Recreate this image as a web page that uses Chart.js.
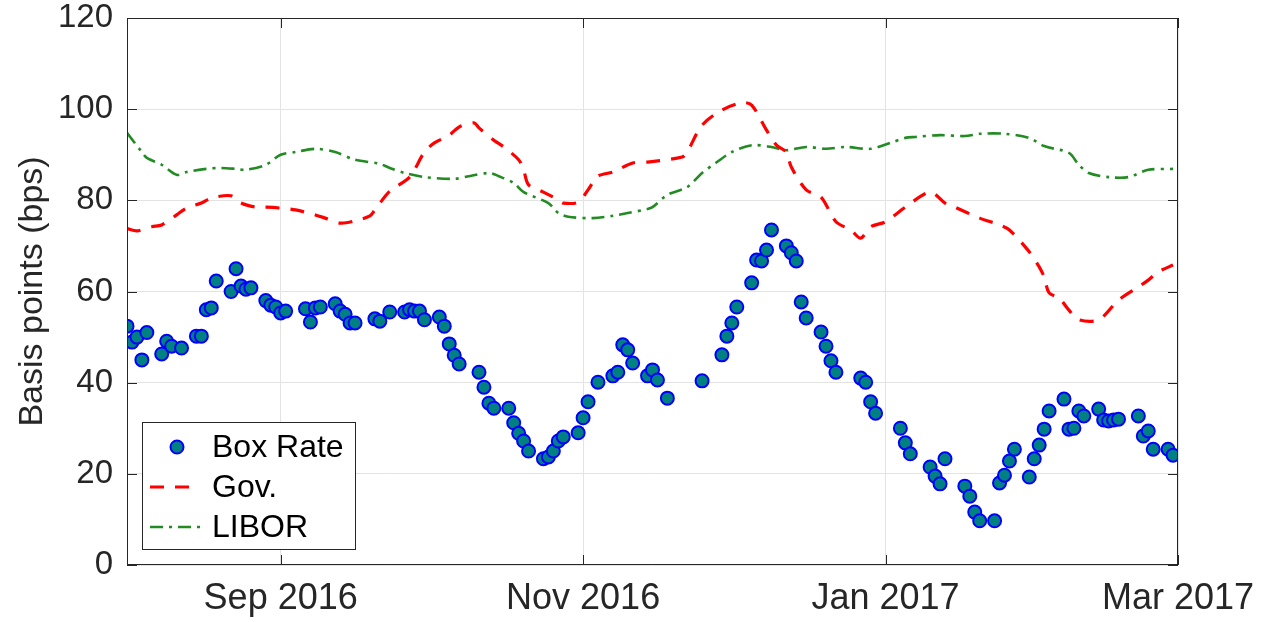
<!DOCTYPE html>
<html>
<head>
<meta charset="utf-8">
<script src="https://cdn.jsdelivr.net/npm/chart.js@4.4.0/dist/chart.umd.min.js"></script>
<style>
  html, body { margin: 0; padding: 0; background: #fff; }
  #wrap { width: 1267px; height: 622px; }
</style>
</head>
<body>
<div id="wrap"><canvas id="chart" width="1267" height="622"></canvas></div>
<script>
/* x values are days counted from 1 Aug 2016 */
const boxDays = [0,1,2,3,4,7,8,9,11,14,15,16,17,18,21,22,23,24,25,28,29,30,31,32,36,37,38,39,42,43,44,45,46,50,51,53,56,57,58,59,60,63,64,65,66,67,71,72,73,74,77,78,79,80,81,84,85,86,87,88,91,92,93,95,98,99,100,101,102,105,106,107,109,116,120,121,122,123,126,127,128,129,130,133,134,135,136,137,140,141,142,143,148,149,150,151,156,157,158,162,163,164,165,169,170,171,172,175,176,177,178,179,182,183,184,185,186,189,190,191,192,193,196,197,198,199,200,204,205,206,207,210,211];
const boxRate = [52.4,48.9,50,45,51,46.3,49.1,48,47.6,50.2,50.2,56,56.4,62.3,60,65,61.2,60.5,60.8,58,57,56.6,55.3,55.7,56.2,53.3,56.4,56.6,57.3,55.7,55,53.1,53.1,54,53.5,55.5,55.5,56,55.7,55.7,53.8,54.4,52.4,48.5,46,44.1,42.3,39,35.5,34.4,34.4,31.2,28.9,27.2,25,23.3,23.7,25,27.2,28.1,29,32.3,35.8,40.1,41.5,42.3,48.3,47.2,44.3,41.5,42.8,40.6,36.6,40.4,46.1,50.2,53.1,56.6,61.9,66.9,66.7,69.1,73.5,70,68.5,66.7,57.7,54.2,51.1,48,44.8,42.3,41,40.1,35.8,33.3,30,26.8,24.4,21.5,19.5,17.8,23.3,17.3,15.1,11.6,9.7,9.7,18,19.7,22.8,25.4,19.3,23.3,26.3,29.8,33.8,36.4,29.8,30,33.8,32.7,34.2,31.8,31.6,31.8,32,32.7,28.3,29.4,25.4,25.4,24.1];

const govDays = [0,2,5,7,10,12,15,17,21,23,26,28,31,34,38,40,43,46,49,50,53,57,60,62,65,67,70,71,74,76,79,80,81,84,87,88,91,93,95,98,102,105,112,113,116,120,124,126,129,131,133,134,137,140,143,146,148,150,153,157,162,165,167,172,176,178,182,184,185,186,188,190,192,196,200,204,206,208,211];
const govRate = [73.8,73.3,74.2,74.6,76.8,78.3,79.4,80.5,81,79.4,78.5,78.5,78.3,77.9,76.8,76.1,75,75.5,76.6,77.9,82,85.1,90.6,92.6,94.3,96.1,97,95.9,93.2,91.7,88.9,86.7,83.4,81.8,80.1,79.4,79.6,82.3,85.3,86.2,88.2,88.4,89.5,90.6,96.5,99.8,101.4,100.9,95.4,92.1,90.6,87.3,82.3,80.7,75.3,73.5,71.7,74.2,75.3,78.5,81.8,79.4,78.5,76.1,74.6,73.5,68.7,65.4,63.2,59.7,58.6,55.9,53.8,53.8,58.1,61,62.5,64.3,65.8];

const liborDays = [0,3,4,7,10,12,16,19,22,24,28,31,34,38,42,46,51,53,56,60,66,69,73,75,78,80,85,87,89,94,98,101,105,106,109,113,116,119,122,126,130,133,137,141,145,150,154,157,159,164,169,172,177,182,185,190,192,194,198,202,206,211];
const liborRate = [94.8,90.6,89.3,87.8,85.6,86.2,86.9,87.1,86.9,86.7,87.8,90,90.6,91.3,90.6,88.9,88,87.1,86,85.1,84.7,85.3,86,85.3,83.8,81.8,79.4,77.2,76.4,76.1,76.6,77.2,78.1,78.5,81.2,82.9,86,88.4,90.6,92.1,91.7,91,91.7,91.3,91.7,91.3,92.6,93.7,93.9,94.3,94.1,94.6,94.6,93.7,91.9,90.4,87.8,86,85.1,85.1,86.7,86.9];

const xTickDays = [31, 92, 153, 212];
const xTickLabels = ['Sep 2016', 'Nov 2016', 'Jan 2017', 'Mar 2017'];

const seriesNames = ['Box Rate', 'Gov.', 'LIBOR'];

const FONT = '"Liberation Sans", Arial, Helvetica, sans-serif';
const INK = '#262626';

const toXY = (xs, ys) => xs.map((x, i) => ({ x, y: ys[i] }));

// MATLAB-style box: frame on four sides with inward ticks
const axesBox = {
  id: 'axesBox',
  afterDatasetsDraw(chart) {
    const { ctx, chartArea: a, scales } = chart;
    ctx.save();
    ctx.strokeStyle = INK;
    ctx.lineWidth = 1;
    ctx.strokeRect(a.left + 0.5, a.top + 0.5, a.right - a.left - 1, a.bottom - a.top - 1);
    const len = 10;
    ctx.beginPath();
    scales.y.ticks.forEach(t => {
      const y = Math.round(scales.y.getPixelForValue(t.value)) + 0.5;
      ctx.moveTo(a.left, y); ctx.lineTo(a.left + len, y);
      ctx.moveTo(a.right, y); ctx.lineTo(a.right - len, y);
    });
    scales.x.ticks.forEach(t => {
      const x = Math.round(scales.x.getPixelForValue(t.value)) + 0.5;
      ctx.moveTo(x, a.bottom); ctx.lineTo(x, a.bottom - len);
      ctx.moveTo(x, a.top); ctx.lineTo(x, a.top + len);
    });
    ctx.stroke();
    ctx.restore();
  }
};

// legend box in the lower left corner of the axes
const boxLegend = {
  id: 'boxLegend',
  afterDraw(chart) {
    const { ctx } = chart;
    const ds = chart.data.datasets;
    const L = 142, T = 422, W = 213, H = 127;
    ctx.save();
    ctx.fillStyle = '#fff';
    ctx.fillRect(L, T, W, H);
    ctx.strokeStyle = INK;
    ctx.lineWidth = 1;
    ctx.strokeRect(L + 0.5, T + 0.5, W, H);
    const rows = [447, 487, 527];
    const lineEnd = [0, 194, 203];
    ds.forEach((d, i) => {
      const y = rows[i];
      if (i === 0) {
        ctx.beginPath();
        ctx.arc(177, y, d.pointRadius, 0, Math.PI * 2);
        ctx.fillStyle = d.pointBackgroundColor;
        ctx.fill();
        ctx.lineWidth = d.pointBorderWidth;
        ctx.strokeStyle = d.pointBorderColor;
        ctx.stroke();
      } else {
        ctx.beginPath();
        ctx.setLineDash(d.borderDash);
        ctx.lineWidth = d.borderWidth;
        ctx.strokeStyle = d.borderColor;
        ctx.moveTo(150, y); ctx.lineTo(lineEnd[i], y);
        ctx.stroke();
        ctx.setLineDash([]);
      }
      ctx.fillStyle = '#000';
      ctx.font = '32px ' + FONT;
      ctx.textBaseline = 'middle';
      ctx.fillText(d.label, 212, y + 1);
    });
    ctx.restore();
  }
};

new Chart(document.getElementById('chart'), {
  type: 'scatter',
  data: {
    datasets: [
      {
        label: seriesNames[0],
        data: toXY(boxDays, boxRate),
        showLine: false,
        pointRadius: 6.5,
        pointBackgroundColor: '#008080',
        pointBorderColor: '#0000ff',
        pointBorderWidth: 2,
        order: 0,
      },
      {
        label: seriesNames[1],
        data: toXY(govDays, govRate),
        showLine: true,
        borderColor: '#ff0000',
        borderWidth: 3.2,
        borderDash: [14, 11],
        pointRadius: 0,
        tension: 0.3,
        order: 1,
      },
      {
        label: seriesNames[2],
        data: toXY(liborDays, liborRate),
        showLine: true,
        borderColor: '#228b22',
        borderWidth: 2.6,
        borderDash: [13, 6, 3, 6],
        pointRadius: 0,
        tension: 0.3,
        order: 2,
      },
    ],
  },
  options: {
    responsive: false,
    animation: false,
    events: [],
    layout: { padding: { left: 0, top: 18, right: 89, bottom: 0 } },
    plugins: { legend: { display: false }, tooltip: { enabled: false } },
    scales: {
      x: {
        type: 'linear',
        min: 0,
        max: 212,
        afterBuildTicks: s => { s.ticks = xTickDays.map(v => ({ value: v })); },
        afterFit: s => { s.height = 57; s.paddingLeft = 0; s.paddingRight = 0; },
        ticks: {
          autoSkip: false,
          maxRotation: 0,
          padding: 12,
          color: INK,
          font: { family: FONT, size: 36 },
          callback: v => xTickLabels[xTickDays.indexOf(v)] ?? '',
        },
        grid: { color: '#e3e3e3', lineWidth: 1, drawTicks: false },
        border: { display: false },
      },
      y: {
        min: 0,
        max: 120,
        afterFit: s => { s.width = 127; s.paddingTop = 0; s.paddingBottom = 0; },
        ticks: {
          stepSize: 20,
          padding: 14,
          color: INK,
          font: { family: FONT, size: 33, lineHeight: 1 },
        },
        grid: { color: '#e3e3e3', lineWidth: 1, drawTicks: false },
        border: { display: false },
        title: {
          display: true,
          text: 'Basis points (bps)',
          color: INK,
          font: { family: FONT, size: 34 },
          padding: { top: 12, bottom: 0 },
        },
      },
    },
  },
  plugins: [axesBox, boxLegend],
});
</script>
</body>
</html>
